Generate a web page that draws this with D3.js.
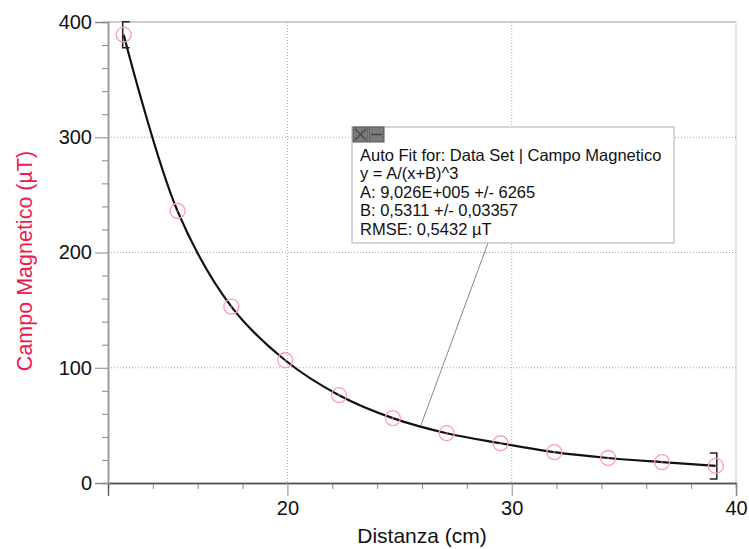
<!DOCTYPE html>
<html>
<head>
<meta charset="utf-8">
<script src="https://cdn.jsdelivr.net/npm/d3@7"></script>
<style>
	body { margin: 0; background: #fff; }
	svg { display: block; font-family: "Liberation Sans", Arial, sans-serif; }
</style>
</head>
<body>
<svg id="chart" width="749" height="549"></svg>
<script>
// data
var distanza = [12.7, 15.1, 17.5, 19.9, 22.3, 24.7, 27.1, 29.5, 31.9, 34.3, 36.7, 39.1];
var campo = [389, 236, 153, 106.5, 76.2, 56.3, 43.2, 34.5, 26.8, 21.7, 18.1, 14.8];
var xMajor = [20, 30, 40];
var yMajor = [0, 100, 200, 300, 400];
var fitText = [
	"Auto Fit for: Data Set | Campo Magnetico",
	"y = A/(x+B)^3",
	"A: 9,026E+005 +/- 6265",
	"B: 0,5311 +/- 0,03357",
	"RMSE: 0,5432 \u00b5T"
];
var leaderAt = [25.95, 50];

var svg = d3.select('#chart');
var pLeft = 108, pRight = 736, pTop = 22, pBottom = 483;

var x = d3.scaleLinear().domain([12, 40]).range([pLeft, pRight]);
var y = d3.scaleLinear().domain([0, 400]).range([pBottom, pTop]);

// grid
svg.selectAll('line.gx').data(xMajor.slice(0, 2)).enter().append('line')
	.attr("x1", function(d){ return x(d); }).attr("x2", function(d){ return x(d); })
	.attr("y1", pTop).attr("y2", pBottom)
	.style("stroke", "#aaa").style("stroke-dasharray", "1,2");
svg.selectAll('line.gy').data(yMajor.slice(1, 4)).enter().append('line')
	.attr("x1", pLeft).attr("x2", pRight)
	.attr("y1", function(d){ return y(d); }).attr("y2", function(d){ return y(d); })
	.style("stroke", "#aaa").style("stroke-dasharray", "1,2");

// frame top + right
svg.append('line').attr("x1", pLeft).attr("x2", pRight).attr("y1", pTop).attr("y2", pTop)
	.style("stroke", "#999").style("stroke-width", 1.2);
svg.append('line').attr("x1", pRight).attr("x2", pRight).attr("y1", pTop).attr("y2", pBottom)
	.style("stroke", "#999").style("stroke-dasharray", "1,1");

// minor ticks
var xMinor = d3.range(14, 40, 2).filter(function(d){ return d % 10 !== 0; });
var yMinor = d3.range(20, 400, 20).filter(function(d){ return d % 100 !== 0; });

var gx = svg.append('g').attr("transform", "translate(0," + pBottom + ")");
gx.call(d3.axisBottom(x).tickValues(xMinor).tickSize(6).tickFormat(""));
gx.append('g').call(d3.axisBottom(x).tickValues(xMajor).tickSize(13).tickPadding(5).tickFormat(d3.format("d")));
gx.selectAll('path').style("stroke", "#555").style("stroke-width", 1.3);
gx.selectAll('line').style("stroke", "#888");
gx.selectAll('text').style("font-size", "20px").style("fill", "#111")
	.style("font-family", "Liberation Sans, Arial, sans-serif");

var gy = svg.append('g').attr("transform", "translate(" + pLeft + ",0)");
gy.call(d3.axisLeft(y).tickValues(yMinor).tickSize(6).tickFormat(""));
gy.append('g').call(d3.axisLeft(y).tickValues(yMajor).tickSize(13).tickPadding(3).tickFormat(d3.format("d")));
gy.selectAll('path').style("stroke", "#999").style("stroke-width", 1.5);
gy.selectAll('line').style("stroke", "#888");
gy.selectAll('text').style("font-size", "20px").style("fill", "#111")
	.style("font-family", "Liberation Sans, Arial, sans-serif");

// axis titles
svg.append('text').attr("x", (pLeft + pRight) / 2).attr("y", 543)
	.attr("text-anchor", "middle").style("font-size", "21px").style("fill", "#111")
	.text("Distanza (cm)");
svg.append('text').attr("transform", "translate(32,261) rotate(-90)")
	.attr("text-anchor", "middle").style("font-size", "21.5px").style("fill", "#f0184c")
	.text("Campo Magnetico (\u00b5T)");

// fit curve
var line = d3.line()
	.x(function(d, i){ return x(distanza[i]); })
	.y(function(d){ return y(d); })
	.curve(d3.curveCatmullRom.alpha(0.5));
svg.append('path').datum(campo).attr("d", line)
	.style("fill", "none").style("stroke", "#111").style("stroke-width", 2.2);

// range brackets
var n = distanza.length;
var br = [
	{ px: x(distanza[0]), py: y(campo[0]), dir: 1 },
	{ px: x(distanza[n - 1]), py: y(campo[n - 1]), dir: -1 }
];
br.forEach(function(b){
	var bx = b.px - b.dir * 1;
	svg.append('path')
		.attr("d", "M" + (bx + b.dir * 7) + "," + (b.py - 13) + "H" + bx + "V" + (b.py + 13) + "H" + (bx + b.dir * 7))
		.style("fill", "none").style("stroke", "#222").style("stroke-width", 1.5);
});

// data circles
svg.selectAll('circle.pt').data(campo).enter().append('circle')
	.attr("class", "pt")
	.attr("cx", function(d, i){ return x(distanza[i]); })
	.attr("cy", function(d){ return y(d); })
	.attr("r", 7.5)
	.style("fill", "none").style("stroke", "#ff9db3").style("stroke-width", 1.3);
svg.selectAll('circle.dot').data(campo).enter().append('circle')
	.attr("cx", function(d, i){ return x(distanza[i]); })
	.attr("cy", function(d){ return y(d); })
	.attr("r", 1).style("fill", "#d04060");

// fit box
var bx0 = 352, by0 = 127, bw = 322, bh = 116;
svg.append('line')
	.attr("x1", 488).attr("y1", by0 + bh)
	.attr("x2", x(leaderAt[0])).attr("y2", y(leaderAt[1]))
	.style("stroke", "#888").style("stroke-width", 1);
svg.append('rect').attr("x", bx0).attr("y", by0).attr("width", bw).attr("height", bh)
	.style("fill", "#fff").style("stroke", "#bbb").style("stroke-width", 1.2);
svg.append('rect').attr("x", bx0 + 1).attr("y", by0).attr("width", 15).attr("height", 15)
	.style("fill", "#7a7a7a").style("stroke", "#555");
svg.append('path')
	.attr("d", "M" + (bx0 + 3) + "," + (by0 + 2) + "L" + (bx0 + 14) + "," + (by0 + 13) +
		"M" + (bx0 + 14) + "," + (by0 + 2) + "L" + (bx0 + 3) + "," + (by0 + 13))
	.style("stroke", "#444").style("stroke-width", 1.2);
svg.append('rect').attr("x", bx0 + 17).attr("y", by0).attr("width", 15).attr("height", 15)
	.style("fill", "#7a7a7a").style("stroke", "#555");
svg.append('line').attr("x1", bx0 + 19).attr("x2", bx0 + 30).attr("y1", by0 + 7.5).attr("y2", by0 + 7.5)
	.style("stroke", "#444").style("stroke-width", 1.5);

svg.selectAll('text.fit').data(fitText).enter().append('text')
	.attr("x", 360)
	.attr("y", function(d, i){ return 160.5 + i * 18.5; })
	.style("font-size", "16.5px").style("fill", "#111")
	.text(function(d){ return d; });
</script>
</body>
</html>
